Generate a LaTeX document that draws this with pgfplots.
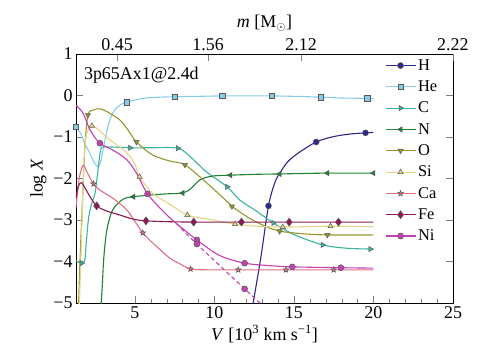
\documentclass[border=0pt]{standalone}
\usepackage{fontspec}
\setmainfont{Liberation Serif}
\usepackage{pgfplots}
\pgfplotsset{compat=1.18}
\usetikzlibrary{plotmarks}

\definecolor{cH}{RGB}{45,40,140}
\definecolor{cHe}{RGB}{135,205,235}
\definecolor{cC}{RGB}{60,180,160}
\definecolor{cN}{RGB}{30,130,55}
\definecolor{cO}{RGB}{150,150,45}
\definecolor{cSi}{RGB}{232,212,135}
\definecolor{cCa}{RGB}{225,110,130}
\definecolor{cFe}{RGB}{140,25,85}
\definecolor{cNi}{RGB}{195,65,175}

\newcommand\fs{\fontsize{18}{21}\selectfont}
\newcommand\fl{\fontsize{16.5}{18}\selectfont}

% filled five-pointed star
\pgfdeclareplotmark{fstar}{%
  \pgfpathmoveto{\pgfpointpolar{90}{\pgfplotmarksize}}%
  \pgfpathlineto{\pgfpointpolar{126}{0.42\pgfplotmarksize}}%
  \pgfpathlineto{\pgfpointpolar{162}{\pgfplotmarksize}}%
  \pgfpathlineto{\pgfpointpolar{198}{0.42\pgfplotmarksize}}%
  \pgfpathlineto{\pgfpointpolar{234}{\pgfplotmarksize}}%
  \pgfpathlineto{\pgfpointpolar{270}{0.42\pgfplotmarksize}}%
  \pgfpathlineto{\pgfpointpolar{306}{\pgfplotmarksize}}%
  \pgfpathlineto{\pgfpointpolar{342}{0.42\pgfplotmarksize}}%
  \pgfpathlineto{\pgfpointpolar{18}{\pgfplotmarksize}}%
  \pgfpathlineto{\pgfpointpolar{54}{0.42\pgfplotmarksize}}%
  \pgfpathclose
  \pgfusepathqfillstroke}

\pgfplotsset{
  ln/.style={line width=1.1bp, smooth, tension=0.5, no marks, forget plot},
  mk/.style 2 args={only marks, forget plot, mark size=3bp,
    mark options={draw=black!65, line width=0.5bp, fill=#1, rotate=#2}},
  lg/.style 2 args={#1, mark size=3bp,
    mark options={draw=black!65, line width=0.5bp, fill=#1, rotate=#2}},
}

\begin{document}
\begin{tikzpicture}
\begin{axis}[
  scale only axis, width=377bp, height=249bp,
  xmin=1.3, xmax=25, ymin=-5, ymax=1,
  xtick={5,10,15,20,25}, xticklabels={5,10,15,20,25},
  minor x tick num=4, xtick pos=bottom,
  ytick={-5,-4,-3,-2,-1,0,1}, yticklabels={−5,−4,−3,−2,−1,0,1},
  tick align=inside, major tick length=7bp, minor tick length=3.5bp,
  tick label style={font=\fs}, label style={font=\fs},
  xlabel={\textit{V} [10\textsuperscript{3} km s\textsuperscript{−1}]},
  ylabel={log \textit{X}},
  legend cell align=left,
  legend style={at={(rel axis cs:0.972,0.995)}, anchor=north east,
    draw=none, fill=none, font=\fl, row sep=5bp},
  legend image code/.code={\draw[line width=1.1bp, mark repeat=2, mark phase=2]
    plot coordinates {(0bp,0bp) (15bp,0bp) (30bp,0bp)};},
]
% H
\addplot[ln, cH] coordinates {(12.3,-5.3) (12.9,-3.95) (13.4,-2.66) (13.8,-2.1) (14.1,-1.88) (14.6,-1.6) (15.3,-1.38) (16.4,-1.12) (17.5,-0.99) (18.5,-0.93) (19.5,-0.9) (20,-0.89)};
\addplot[mk={cH}{0}, mark=*] coordinates {(13.4,-2.66) (16.4,-1.12) (19.5,-0.9)};
% He
\addplot[ln, cHe] coordinates {(1.3,-0.76) (1.6,-0.92) (1.85,-1.15) (2.15,-1.38) (2.4,-1.58) (2.67,-1.72) (2.85,-1.6) (3.0,-1.31) (3.3,-0.76) (3.6,-0.43) (4.06,-0.23) (4.5,-0.16) (5.5,-0.07) (6.6,-0.04) (7.5,-0.03) (9,-0.02) (10.5,-0.01) (12,-0.01) (13.6,-0.01) (15,-0.02) (16.7,-0.04) (18,-0.06) (19.6,-0.07) (20,-0.08)};
\addplot[mk={cHe}{0}, mark=square*, mark size=2.7bp] coordinates {(1.3,-0.76) (4.5,-0.16) (7.5,-0.03) (10.5,-0.01) (13.6,-0.01) (16.7,-0.04) (19.6,-0.07)};
% C
\addplot[ln, cC] coordinates {(1.3,-3.98) (1.65,-4.04) (1.85,-3.97) (1.96,-3.48) (2.1,-2.93) (2.3,-2.58) (2.5,-2.35) (2.67,-1.85) (2.85,-1.32) (3.1,-1.24) (4.7,-1.26) (6,-1.26) (7.7,-1.27) (8.5,-1.48) (9.5,-1.84) (10.8,-2.2) (11.6,-2.52) (12.7,-2.8) (13.7,-3.07) (15,-3.35) (16.8,-3.6) (18.3,-3.68) (19.8,-3.7) (20,-3.7)};
\addplot[mk={cC}{-90}, mark=triangle*] coordinates {(1.65,-4.04) (4.7,-1.26) (7.7,-1.27) (10.8,-2.2) (13.7,-3.07) (16.8,-3.6) (19.8,-3.7)};
% N
\addplot[ln, cN] coordinates {(2.85,-5.2) (2.95,-4.6) (3.05,-3.9) (3.24,-3.24) (3.6,-2.76) (4.25,-2.5) (4.9,-2.44) (5.9,-2.4) (7.0,-2.37) (8.0,-2.35) (8.5,-2.25) (9.1,-2.03) (9.9,-1.94) (11.0,-1.92) (12.5,-1.9) (14.1,-1.89) (17.1,-1.87) (20,-1.87)};
\addplot[mk={cN}{90}, mark=triangle*] coordinates {(4.9,-2.44) (8.0,-2.35) (11.0,-1.92) (14.1,-1.89) (17.1,-1.87) (20,-1.87)};
% O
\addplot[ln, cO] coordinates {(1.45,-5.2) (1.55,-4.0) (1.7,-2.6) (1.85,-1.3) (2.05,-0.47) (2.4,-0.35) (2.8,-0.32) (3.3,-0.4) (4.06,-0.59) (4.6,-0.85) (5.1,-1.12) (6.1,-1.43) (7.2,-1.58) (8.15,-1.67) (9.5,-2.1) (10.7,-2.52) (11.1,-2.67) (12.3,-2.98) (13.5,-3.2) (14.1,-3.27) (15.5,-3.33) (17.1,-3.36) (20,-3.36)};
\addplot[mk={cO}{180}, mark=triangle*] coordinates {(2.05,-0.47) (5.1,-1.12) (8.15,-1.67) (11.1,-2.67) (14.1,-3.27) (17.1,-3.36)};
% Si
\addplot[ln, cSi] coordinates {(1.5,-5.2) (1.6,-4.0) (1.7,-2.7) (1.8,-1.6) (1.95,-0.95) (2.3,-0.73) (2.7,-0.82) (3.0,-0.93) (3.6,-1.12) (4.5,-1.38) (5.0,-1.65) (5.3,-1.96) (6.1,-2.35) (7.2,-2.62) (8.3,-2.88) (9.9,-3.0) (11.3,-3.1) (12.7,-3.15) (14.3,-3.17) (17.3,-3.15) (20,-3.16)};
\addplot[mk={cSi}{0}, mark=triangle*] coordinates {(2.3,-0.73) (5.3,-1.96) (8.3,-2.88) (11.3,-3.1) (14.3,-3.17) (17.3,-3.15)};
% Ca
\addplot[ln, cCa] coordinates {(1.3,-2.7) (1.5,-2.0) (1.75,-1.68) (2.0,-1.85) (2.4,-2.13) (2.8,-2.28) (3.6,-2.47) (4.5,-2.76) (5.5,-3.31) (6.4,-3.65) (7.2,-3.92) (7.8,-4.05) (8.5,-4.18) (9.5,-4.2) (11.5,-4.2) (14.5,-4.2) (17.5,-4.2) (20,-4.2)};
\addplot[mk={cCa}{0}, mark=fstar] coordinates {(2.4,-2.13) (5.5,-3.31) (8.5,-4.18) (11.5,-4.2) (14.5,-4.2) (17.5,-4.2)};
% Fe
\addplot[ln, cFe] coordinates {(1.3,-2.45) (1.45,-2.18) (1.65,-2.1) (1.9,-2.25) (2.2,-2.45) (2.6,-2.66) (3.2,-2.78) (4.06,-2.88) (4.9,-2.98) (5.7,-3.02) (7,-3.04) (8.7,-3.05) (11.7,-3.05) (14.7,-3.05) (17.8,-3.05) (20,-3.05)};
\addplot[mk={cFe}{0}, mark=diamond*, mark size=4bp] coordinates {(2.6,-2.66) (5.7,-3.02) (8.7,-3.05) (11.7,-3.05) (14.7,-3.05) (17.8,-3.05)};
% Ni
\addplot[ln, cNi] coordinates {(1.3,-0.23) (1.75,-0.43) (2.2,-0.84) (2.8,-1.15) (3.6,-1.31) (4.5,-1.55) (5.1,-1.87) (5.8,-2.37) (6.8,-2.8) (7.6,-3.08) (8.9,-3.48) (10.3,-3.85) (11.9,-4.04) (13.5,-4.1) (14.9,-4.13) (17.95,-4.15) (20,-4.16)};
\addplot[mk={cNi}{0}, mark=*] coordinates {(2.8,-1.15) (5.8,-2.37) (8.9,-3.48) (11.9,-4.04) (14.9,-4.13) (17.95,-4.15)};
% Ni, dashed branch
\addplot[ln, cNi, dash pattern=on 4bp off 3bp] coordinates {(7.6,-3.08) (8.9,-3.58) (11.9,-4.66) (13.0,-5.05)};
\addplot[mk={cNi}{0}, mark=*] coordinates {(8.9,-3.58) (11.9,-4.66)};

\addlegendimage{lg={cH}{0}, mark=*}\addlegendentry{H}
\addlegendimage{lg={cHe}{0}, mark=square*, mark size=2.7bp}\addlegendentry{He}
\addlegendimage{lg={cC}{-90}, mark=triangle*}\addlegendentry{C}
\addlegendimage{lg={cN}{90}, mark=triangle*}\addlegendentry{N}
\addlegendimage{lg={cO}{180}, mark=triangle*}\addlegendentry{O}
\addlegendimage{lg={cSi}{0}, mark=triangle*}\addlegendentry{Si}
\addlegendimage{lg={cCa}{0}, mark=fstar}\addlegendentry{Ca}
\addlegendimage{lg={cFe}{0}, mark=diamond*, mark size=4bp}\addlegendentry{Fe}
\addlegendimage{lg={cNi}{0}, mark=*}\addlegendentry{Ni}

\node[anchor=west, font=\fs] at (rel axis cs:0.012,0.914) {3p65Ax1@2.4d};
\coordinate (sw) at (rel axis cs:0,0);
\coordinate (ne) at (rel axis cs:1,1);
\end{axis}
\begin{axis}[
  scale only axis, width=377bp, height=249bp,
  xmin=1.3, xmax=25, ymin=-5, ymax=1,
  axis x line*=top, axis y line=none,
  xtick={3.88,9.6,15.45,24.99}, xticklabels={0.45,1.56,2.12,2.22},
  tick align=inside, major tick length=7bp,
  tick label style={font=\fs}, label style={font=\fs},
  xlabel={\textit{m} [M\textsubscript{$\odot$}]},
]
\end{axis}
\pgfresetboundingbox
\path ([shift={(-76bp,-55bp)}]sw) rectangle ([shift={(24bp,54bp)}]ne);
\end{tikzpicture}
\end{document}
